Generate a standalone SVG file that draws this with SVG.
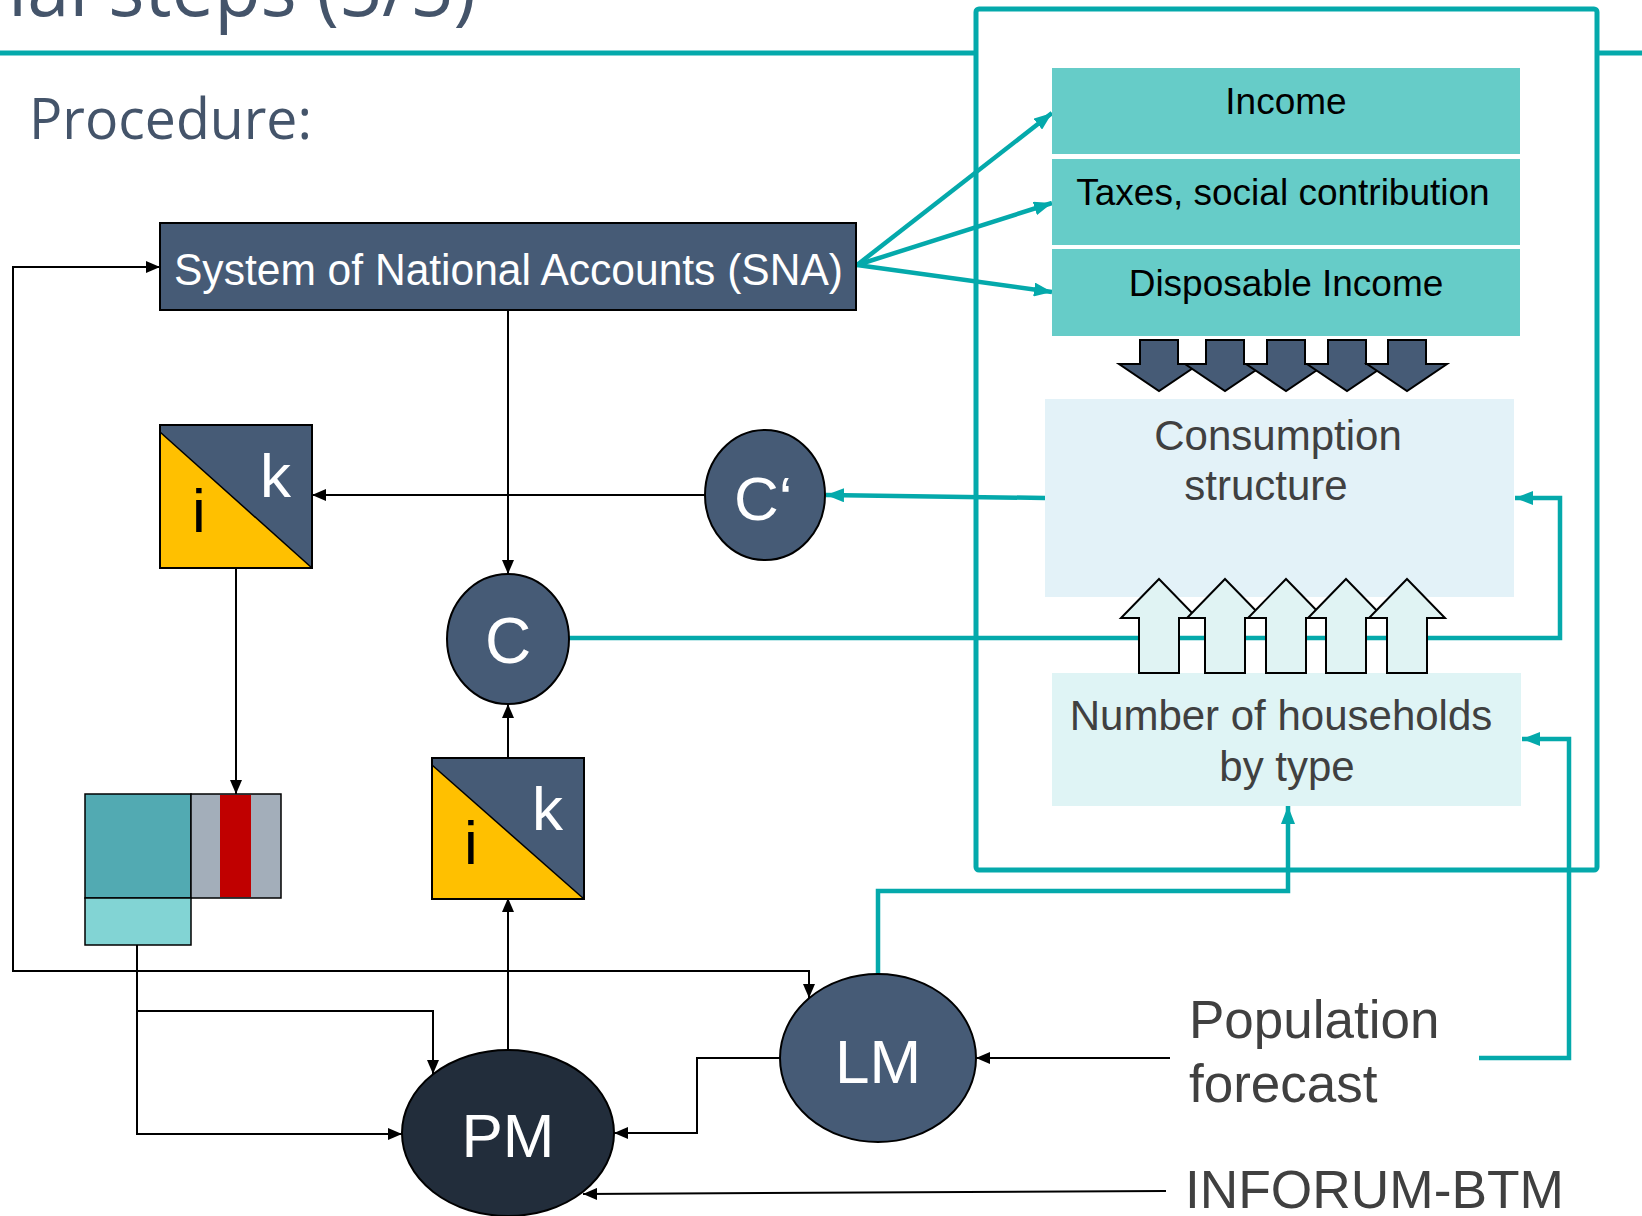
<svg xmlns="http://www.w3.org/2000/svg" width="1642" height="1216" viewBox="0 0 1642 1216">
<defs>
<style>
.ln{fill:none;stroke:#000;stroke-width:2}
.tl{fill:none;stroke:#04a9ab;stroke-width:4.5}
.slate{fill:#465b76;stroke:#000;stroke-width:2}
.t{font-family:"Liberation Sans",Arial,sans-serif}
.w{fill:#fff}
.g{fill:#404040}
.inc{fill:#66ccc8}
</style>
<marker id="ab" viewBox="0 0 14 12" refX="14" refY="6" markerWidth="14" markerHeight="12" markerUnits="userSpaceOnUse" orient="auto"><path d="M0,0 L14,6 L0,12 z" fill="#000"/></marker>
<marker id="at" viewBox="0 0 18 14" refX="18" refY="7" markerWidth="18" markerHeight="14" markerUnits="userSpaceOnUse" orient="auto"><path d="M0,0 L18,7 L0,14 z" fill="#04a9ab"/></marker>
<path id="darr" d="M-19,340 H19 V364 H40 L0,391 L-40,364 H-19 Z" fill="#465b76" stroke="#000" stroke-width="2"/>
<path id="uarr" d="M0,579 L38,618 H20 V673 H-20 V618 H-38 Z" fill="#e0f3f3" stroke="#000" stroke-width="2"/>
</defs>
<rect width="1642" height="1216" fill="#fff"/>
<g id="header">
<line x1="0" y1="53" x2="1642" y2="53" stroke="#04a9ab" stroke-width="5"/>
<text x="8" y="16" font-family="'Open Sans',sans-serif" font-size="78" fill="#44546a" textLength="468" lengthAdjust="spacingAndGlyphs">ial steps (5/5)</text>
<text x="29" y="139" font-family="'Open Sans',sans-serif" font-size="57" fill="#44546a" textLength="283" lengthAdjust="spacingAndGlyphs">Procedure:</text>
</g>
<g id="frame">
<rect x="976" y="9" width="621" height="861" rx="3" fill="#fff" stroke="#04a9ab" stroke-width="5"/>
</g>
<g id="connectors">
<path class="ln" d="M508,311 V574" marker-end="url(#ab)"/>
<path class="ln" d="M705,495 H312" marker-end="url(#ab)"/>
<path class="ln" d="M236,568 V794" marker-end="url(#ab)"/>
<path class="ln" d="M508,758 V704" marker-end="url(#ab)"/>
<path class="ln" d="M508,1050 V898" marker-end="url(#ab)"/>
<path class="ln" d="M137,945 V1134 H402" marker-end="url(#ab)"/>
<path class="ln" d="M137,1011 H433 V1074" marker-end="url(#ab)"/>
<path class="ln" d="M137,971 H13 V267 H160" marker-end="url(#ab)"/>
<path class="ln" d="M137,971 H809 V998" marker-end="url(#ab)"/>
<path class="ln" d="M780,1058 H697 V1133 H614" marker-end="url(#ab)"/>
<path class="ln" d="M1170,1058 H976" marker-end="url(#ab)"/>
<path class="ln" d="M1166,1191 L583,1194" marker-end="url(#ab)"/>
<path class="tl" d="M857,265 L1052,113" marker-end="url(#at)"/>
<path class="tl" d="M857,265 L1052,203" marker-end="url(#at)"/>
<path class="tl" d="M857,265 L1052,292" marker-end="url(#at)"/>
<path class="tl" d="M1045,498 L826,495" marker-end="url(#at)"/>
<path class="tl" d="M569,638 H1560 V498 H1515" marker-end="url(#at)"/>
<path class="tl" d="M878,974 V891 H1288 V806" marker-end="url(#at)"/>
<path class="tl" d="M1479,1058 H1569 V739 H1522" marker-end="url(#at)"/>
</g>
<g id="sna">
<rect class="slate" x="160" y="223" width="696" height="87"/>
<text class="t w" x="174" y="285" font-size="45" textLength="669" lengthAdjust="spacingAndGlyphs">System of National Accounts (SNA)</text>
</g>
<g id="income">
<rect class="inc" x="1052" y="68" width="468" height="86"/>
<text class="t" x="1286" y="114" font-size="37" text-anchor="middle">Income</text>
</g>
<g id="taxes">
<rect class="inc" x="1052" y="159" width="468" height="86"/>
<text class="t" x="1283" y="205" font-size="37" text-anchor="middle">Taxes, social contribution</text>
</g>
<g id="disposable">
<rect class="inc" x="1052" y="249" width="468" height="87"/>
<text class="t" x="1286" y="296" font-size="37" text-anchor="middle">Disposable Income</text>
</g>
<g id="consumption">
<rect x="1045" y="399" width="469" height="198" fill="#e3f2f8"/>
<text class="t g" x="1278" y="450" font-size="42" text-anchor="middle">Consumption</text>
<text class="t g" x="1266" y="500" font-size="42" text-anchor="middle">structure</text>
</g>
<g id="households">
<rect x="1052" y="673" width="469" height="133" fill="#dff4f5"/>
<text class="t g" x="1281" y="730" font-size="42" text-anchor="middle">Number of households</text>
<text class="t g" x="1287" y="781" font-size="42" text-anchor="middle">by type</text>
</g>
<g id="down-arrows">
<use href="#darr" x="1159"/>
<use href="#darr" x="1225"/>
<use href="#darr" x="1286"/>
<use href="#darr" x="1347"/>
<use href="#darr" x="1407"/>
</g>
<g id="up-arrows">
<use href="#uarr" x="1159"/>
<use href="#uarr" x="1225"/>
<use href="#uarr" x="1286"/>
<use href="#uarr" x="1346"/>
<use href="#uarr" x="1407"/>
</g>
<g id="ik1">
<rect x="160" y="425" width="152" height="143" fill="#ffc000"/>
<polygon points="160,425 312,425 312,568 160,432" fill="#465b76"/>
<line x1="160" y1="432" x2="312" y2="568" stroke="#000" stroke-width="1.5"/>
<rect x="160" y="425" width="152" height="143" fill="none" stroke="#000" stroke-width="2"/>
<text class="t w" x="260" y="497" font-size="62">k</text>
<text class="t" x="192" y="532" font-size="62">i</text>
</g>
<g id="ik2">
<rect x="432" y="758" width="152" height="141" fill="#ffc000"/>
<polygon points="432,758 584,758 584,899 432,765" fill="#465b76"/>
<line x1="432" y1="765" x2="584" y2="899" stroke="#000" stroke-width="1.5"/>
<rect x="432" y="758" width="152" height="141" fill="none" stroke="#000" stroke-width="2"/>
<text class="t w" x="532" y="830" font-size="62">k</text>
<text class="t" x="464" y="864" font-size="62">i</text>
</g>
<g id="matrix">
<rect x="85" y="794" width="106" height="104" fill="#52aab2" stroke="#000" stroke-width="1.5"/>
<rect x="191" y="794" width="90" height="104" fill="#a3aeba" stroke="#000" stroke-width="1.5"/>
<rect x="220" y="795" width="31" height="102" fill="#c00000"/>
<rect x="85" y="898" width="106" height="47" fill="#82d4d4" stroke="#000" stroke-width="1.5"/>
</g>
<g id="c">
<ellipse class="slate" cx="508" cy="639" rx="61" ry="65"/>
<text class="t w" x="508" y="663" font-size="64" text-anchor="middle">C</text>
</g>
<g id="cprime">
<ellipse class="slate" cx="765" cy="495" rx="60" ry="65"/>
<text class="t w" x="734" y="520" font-size="62">C‘</text>
</g>
<g id="lm">
<ellipse class="slate" cx="878" cy="1058" rx="98" ry="84"/>
<text class="t w" x="878" y="1083" font-size="62" text-anchor="middle">LM</text>
</g>
<g id="pm">
<ellipse cx="508" cy="1133" rx="106" ry="83" fill="#222d3b" stroke="#000" stroke-width="2"/>
<text class="t w" x="508" y="1157" font-size="62" text-anchor="middle">PM</text>
</g>
<g id="population">
<text class="t g" x="1189" y="1038" font-size="53">Population</text>
<text class="t g" x="1189" y="1102" font-size="53">forecast</text>
</g>
<g id="inforum">
<text class="t g" x="1185" y="1208" font-size="53" textLength="379" lengthAdjust="spacingAndGlyphs">INFORUM-BTM</text>
</g>
</svg>
